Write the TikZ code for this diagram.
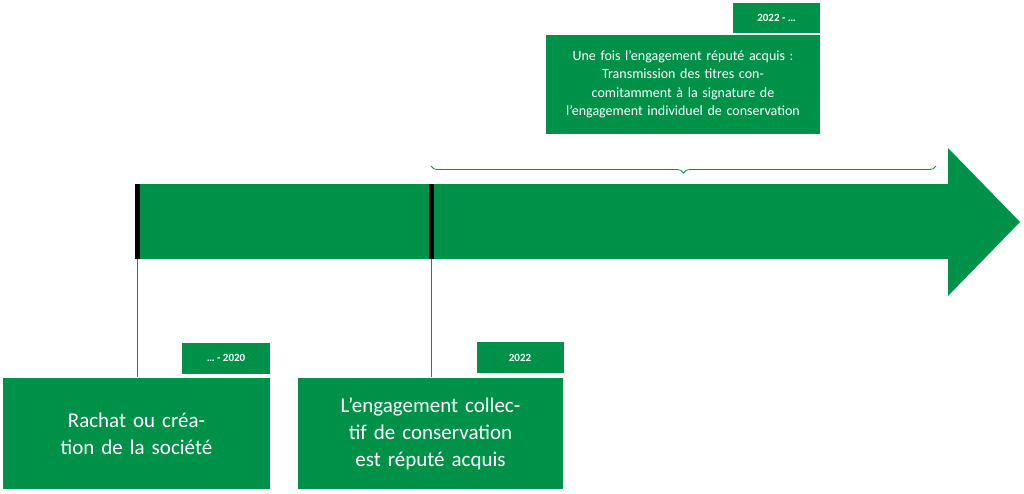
\documentclass[tikz,border=0pt]{standalone}
\usepackage{fontspec}
\setmainfont{Carlito}
\usetikzlibrary{decorations.pathreplacing}
\definecolor{g}{RGB}{0,145,72}
\begin{document}
\begin{tikzpicture}[x=1pt,y=-1pt,
  box/.style={fill=g,draw=white,line width=0.8pt,text=white,inner sep=2pt,align=center},
  lab/.style={fill=g,text=white,font=\bfseries\fontsize{11}{13}\selectfont}]
\useasboundingbox (0,0) rectangle (1024,493);
\fill[g] (136,184) -- (948,184) -- (948,148) -- (1020,222) -- (948,296) -- (948,259) -- (136,259) -- cycle;
\fill[black] (134.5,184) rectangle (139.5,259);
\fill[black] (429,184) rectangle (434,259);
\coordinate (b1) at (137,259); \coordinate (b2) at (431.5,259);
\node[box,minimum width=268,minimum height=112,font=\fontsize{21}{27}\selectfont,text width=250] (n1) at (136.5,433.5) {Rachat ou création de la société};
\node[box,minimum width=266,minimum height=112,font=\fontsize{21}{27}\selectfont,text width=250] (n2) at (430.5,433.5) {L’engagement collectif de conservation est réputé acquis};
\node[box,minimum width=275,minimum height=100,font=\fontsize{14}{18.5}\selectfont,text width=265] (n3) at (683,84.5) {Une fois l’engagement réputé acquis :\\ Transmission des titres concomitamment à la signature de l’engagement individuel de conservation};
\node[lab,minimum width=88,minimum height=31] (l1) at (226,358) {… - 2020};
\node[lab,minimum width=87,minimum height=31] (l2) at (520,357.5) {2022};
\node[lab,minimum width=87,minimum height=30] (l3) at (776.5,18) {2022 - …};
\draw[g,line width=1pt] (b1) -- (n1.north -| b1);
\draw[g,line width=1pt] (b2) -- (n2.north -| b2);
\coordinate (c1) at (431,166); \coordinate (c2) at (936,166);
\draw[g,line width=0.8pt,decorate,decoration={brace,amplitude=7pt,mirror}] (c1) -- (c2);
\end{tikzpicture}
\end{document}
